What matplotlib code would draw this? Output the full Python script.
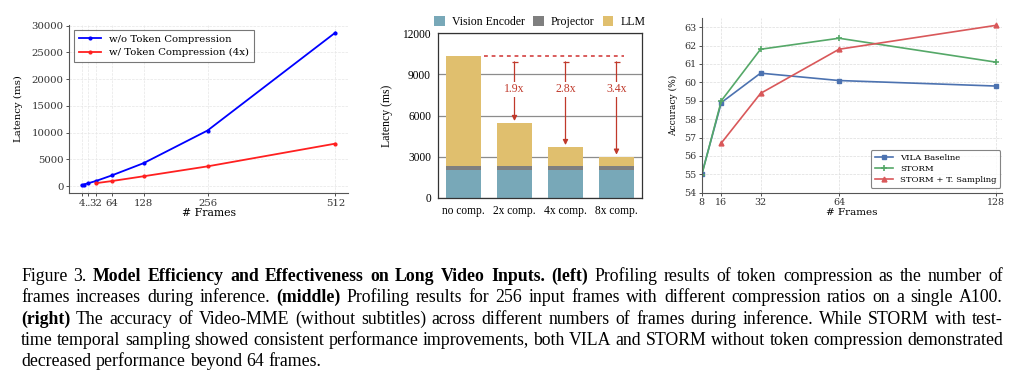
import matplotlib
matplotlib.use("Agg")
import matplotlib.pyplot as plt
import numpy as np

# ---------------- data ----------------
frames_left_wo = [4, 8, 16, 32, 64, 128, 256, 512]
latency_wo = [150, 300, 520, 950, 2000, 4300, 10400, 28700]
frames_left_w = [32, 64, 128, 256, 512]
latency_w = [550, 950, 1850, 3700, 7950]
left_xticks = [4, 16, 32, 64, 128, 256, 512]
left_xticklabels = ['4', '..', '32', '64', '128', '256', '512']

mid_categories = ['no comp.', '2x comp.', '4x comp.', '8x comp.']
vision_encoder = [2050, 2050, 2050, 2050]
projector = [300, 300, 300, 300]
llm = [7950, 3100, 1350, 650]
speedup_labels = ['1.9x', '2.8x', '3.4x']

frames_right = [8, 16, 32, 64, 128]
vila_baseline = [55.0, 58.9, 60.5, 60.1, 59.8]
storm = [54.95, 59.0, 61.8, 62.4, 61.1]
frames_tsamp = [16, 32, 64, 128]
storm_tsamp = [56.7, 59.4, 61.8, 63.1]

W, H = 1024, 373
fig = plt.figure(figsize=(W / 100, H / 100), dpi=100)

def ax_px(x0, y0, x1, y1):
    return fig.add_axes([x0 / W, 1 - y1 / H, (x1 - x0) / W, (y1 - y0) / H])

# ---------------- left ----------------
serif_dv = 'DejaVu Serif'
ax1 = ax_px(69, 25, 348, 193)
ax1.plot(frames_left_wo, latency_wo, color='#0000ff', marker='.', markersize=4,
         linewidth=1.3, label='w/o Token Compression')
ax1.plot(frames_left_w, latency_w, color='#ff2020', marker='.', markersize=4,
         linewidth=1.3, label='w/ Token Compression (4x)')
ax1.set_xticks(left_xticks)
ax1.set_xticklabels(left_xticklabels, fontfamily=serif_dv, fontsize=7.3)
ax1.set_yticks([0, 5000, 10000, 15000, 20000, 25000, 30000])
for lab in ax1.get_yticklabels():
    lab.set_fontfamily(serif_dv); lab.set_fontsize(7.3)
ax1.tick_params(length=2.5, width=0.6, pad=1.5, colors='#333333')
ax1.set_xlabel('# Frames', fontfamily=serif_dv, fontsize=7.8, labelpad=0.5)
ax1.set_ylabel('Latency (ms)', fontfamily=serif_dv, fontsize=7.3, labelpad=6)
ax1.grid(True, linestyle='--', linewidth=0.5, color='#e6e6e6')
for s in ['top', 'right']:
    ax1.spines[s].set_visible(False)
for s in ['left', 'bottom']:
    ax1.spines[s].set_color('#555555'); ax1.spines[s].set_linewidth(0.8)
leg1 = ax1.legend(loc='upper left', prop={'family': serif_dv, 'size': 7.3},
                  frameon=True, fancybox=False, edgecolor='#555555',
                  borderpad=0.45, handlelength=2.2, labelspacing=0.45,
                  bbox_to_anchor=(0.0, 1.0), borderaxespad=0.5)
leg1.get_frame().set_linewidth(0.8)

# ---------------- middle ----------------
serif_lib = 'Liberation Serif'
ax2 = ax_px(438, 33, 642, 198)
x = np.arange(len(mid_categories))
c_ve, c_pr, c_llm = '#78a8b8', '#7f7f7f', '#e0bf6e'
bw = 0.7
ax2.bar(x, vision_encoder, bw, color=c_ve, label='Vision Encoder', zorder=2)
ax2.bar(x, projector, bw, bottom=vision_encoder, color=c_pr, label='Projector', zorder=2)
bottom_llm = np.array(vision_encoder) + np.array(projector)
ax2.bar(x, llm, bw, bottom=bottom_llm, color=c_llm, label='LLM', zorder=2)
totals = bottom_llm + np.array(llm)
ax2.set_xlim(-0.5, 3.5)
ax2.set_ylim(0, 12000)
ax2.set_yticks([0, 3000, 6000, 9000, 12000])
ax2.set_xticks(x)
ax2.set_xticklabels(mid_categories, fontfamily=serif_lib, fontsize=8.3)
for lab in ax2.get_yticklabels():
    lab.set_fontfamily(serif_lib); lab.set_fontsize(8.3)
ax2.tick_params(length=0, pad=5)
ax2.set_ylabel('Latency (ms)', fontfamily=serif_lib, fontsize=8.5, labelpad=7)
ax2.yaxis.grid(True, color='#8c8c8c', linewidth=0.9, zorder=0)
ax2.set_axisbelow(True)
for s in ax2.spines.values():
    s.set_color('#333333'); s.set_linewidth(0.9)
red = '#c0392b'
ax2.plot([0.4, 3.15], [totals[0], totals[0]], color='#d03030', linestyle=(0, (2.5, 2.5)),
         linewidth=1.1, zorder=3)
arrow_top = 9900
for i in range(1, 4):
    ax2.annotate('', xy=(x[i], totals[i] + 150), xytext=(x[i], arrow_top),
                 arrowprops=dict(arrowstyle='-|>,head_width=0.15,head_length=0.3',
                                 color=red, linewidth=0.9, shrinkA=0, shrinkB=0), zorder=4)
    ax2.plot([x[i]], [arrow_top], marker='_', markersize=4, markeredgewidth=0.9,
             color=red, zorder=4)
    ax2.text(x[i], 7900, speedup_labels[i - 1], ha='center', va='center', color=red,
             fontfamily=serif_lib, fontsize=8.5, zorder=5,
             bbox=dict(facecolor='white', edgecolor='none', pad=1.0))
leg2 = ax2.legend(loc='lower center', bbox_to_anchor=(0.5, 1.0), ncol=3, frameon=False,
                  prop={'family': serif_lib, 'size': 8.5}, handlelength=0.9, handleheight=0.9,
                  columnspacing=0.7, handletextpad=0.6, borderaxespad=0.2, borderpad=0.2)

# ---------------- right ----------------
ax3 = ax_px(701.7, 18, 1002, 192.7)
ax3.plot(frames_right, vila_baseline, color='#4c72b0', marker='s', markersize=3.5,
         linewidth=1.2, label='VILA Baseline')
ax3.plot(frames_right, storm, color='#55a868', marker='+', markersize=5, markeredgewidth=1.2,
         linewidth=1.2, label='STORM')
ax3.plot(frames_tsamp, storm_tsamp, color='#d9585a', marker='^', markersize=3.5,
         linewidth=1.2, label='STORM + T. Sampling')
ax3.set_xlim(8, 130.5)
ax3.set_ylim(54, 63.5)
ax3.set_xticks(frames_right)
ax3.set_yticks(list(range(54, 64)))
for lab in ax3.get_xticklabels() + ax3.get_yticklabels():
    lab.set_fontfamily(serif_dv); lab.set_fontsize(6.8)
ax3.tick_params(length=2.5, width=0.6, pad=1.5, colors='#333333')
ax3.set_xlabel('# Frames', fontfamily=serif_dv, fontsize=7.5, labelpad=0.5)
ax3.set_ylabel('Accuracy (%)', fontfamily=serif_dv, fontsize=6.5, labelpad=4.5)
ax3.grid(True, linestyle='--', linewidth=0.5, color='#dddddd')
for s in ['top', 'right']:
    ax3.spines[s].set_visible(False)
for s in ['left', 'bottom']:
    ax3.spines[s].set_color('#555555'); ax3.spines[s].set_linewidth(0.8)
leg3 = ax3.legend(loc='lower right', prop={'family': serif_dv, 'size': 6.1},
                  frameon=True, fancybox=True, edgecolor='#666666',
                  borderpad=0.45, handlelength=2.2, labelspacing=0.35,
                  bbox_to_anchor=(1.0, 0.02), borderaxespad=0.2)
leg3.get_frame().set_linewidth(0.8)

# ---------------- caption (justified) ----------------
cap_font = 'Liberation Serif'
cap_size = 12.8
caption_lines = [
    [("Figure 3.", False), ("Model Efficiency and Effectiveness on Long Video Inputs.", True),
     ("(left)", True), ("Profiling results of token compression as the number of", False)],
    [("frames increases during inference.", False), ("(middle)", True),
     ("Profiling results for 256 input frames with different compression ratios on a single A100.", False)],
    [("(right)", True),
     ("The accuracy of Video-MME (without subtitles) across different numbers of frames during inference. While STORM with test-", False)],
    [("time temporal sampling showed consistent performance improvements, both VILA and STORM without token compression demonstrated", False)],
    [("decreased performance beyond 64 frames.", False)],
]
cap_left, cap_right = 21, 1003
baselines = [281, 302.3, 323.6, 344.9, 366.2]

renderer = fig.canvas.get_renderer()
for li, segs in enumerate(caption_lines):
    words = []
    for text, bold in segs:
        for w in text.split(' '):
            words.append((w, bold))
    objs = []
    widths = []
    for w, bold in words:
        t = fig.text(0, 1 - baselines[li] / H, w, fontfamily=cap_font, fontsize=cap_size,
                     fontweight='bold' if bold else 'normal', va='baseline', ha='left')
        bb = t.get_window_extent(renderer=renderer)
        objs.append(t); widths.append(bb.width)
    total = sum(widths)
    n = len(words)
    justify = li < len(caption_lines) - 1
    if justify and n > 1:
        gap = (cap_right - cap_left - total) / (n - 1)
    else:
        gap = cap_size * 100 / 72 * 0.25
    xpos = cap_left
    for t, wdt in zip(objs, widths):
        t.set_x(xpos / W)
        xpos += wdt + gap

fig.savefig('out.png', dpi=100)
